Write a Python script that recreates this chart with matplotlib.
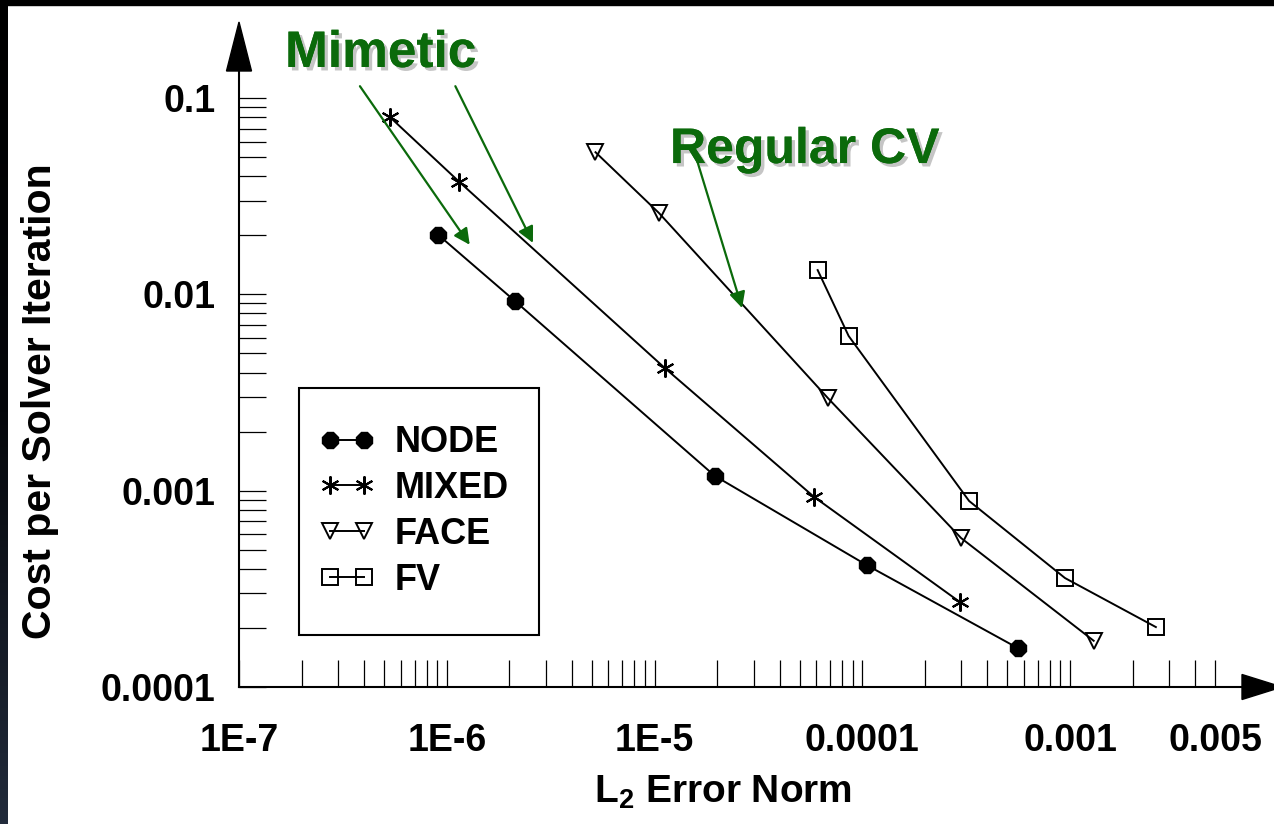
import matplotlib
matplotlib.use('Agg')
import matplotlib.pyplot as plt
import matplotlib.patheffects as pe
import numpy as np
from matplotlib.patches import Polygon, Rectangle
from matplotlib.colors import LinearSegmentedColormap
from matplotlib.ticker import FixedLocator, FixedFormatter, NullFormatter

plt.rcParams['font.family'] = ['Liberation Sans', 'DejaVu Sans']
plt.rcParams['font.weight'] = 'bold'
plt.rcParams['mathtext.fontset'] = 'custom'
plt.rcParams['mathtext.rm'] = 'Liberation Sans:bold'
plt.rcParams['mathtext.bf'] = 'Liberation Sans:bold'
plt.rcParams['mathtext.it'] = 'Liberation Sans:bold:italic'

# valores (error L2, costo por iteracion)
error_node = [9.1e-7, 2.13e-6, 1.95e-5, 1.05e-4, 5.6e-4]
cost_node = [0.0201, 0.00925, 0.00119, 4.18e-4, 1.58e-4]

error_mixed = [5.33e-7, 1.15e-6, 1.12e-5, 5.86e-5, 2.95e-4]
cost_mixed = [0.080, 0.0374, 0.00422, 9.3e-4, 2.71e-4]

error_face = [5.2e-6, 1.05e-5, 6.84e-5, 2.99e-4, 1.3e-3]
cost_face = [0.053, 0.026, 0.00296, 5.74e-4, 1.72e-4]

error_fv = [6.1e-5, 8.6e-5, 3.27e-4, 9.46e-4, 2.59e-3]
cost_fv = [0.0133, 0.00614, 8.86e-4, 3.59e-4, 2.02e-4]

x_ticks = [1e-7, 1e-6, 1e-5, 1e-4, 1e-3, 5e-3]
x_tick_labels = ['1E-7', '1E-6', '1E-5', '0.0001', '0.001', '0.005']
y_ticks = [1e-4, 1e-3, 1e-2, 1e-1]
y_tick_labels = ['0.0001', '0.001', '0.01', '0.1']

# flechas verdes: (cola, punta) en coordenadas de datos
mimetic_arrows = [((3.82e-7, 0.115), (1.29e-6, 0.0179)),
                  ((1.10e-6, 0.115), (2.60e-6, 0.0183))]
regular_arrows = [((1.60e-5, 0.0484), (2.64e-5, 0.00852))]

W, H = 1274, 824


def fig_xy(x, y):
    """pixel -> fraccion de figura"""
    return x / W, 1 - y / H


fig = plt.figure(figsize=(W / 100, H / 100), dpi=100)
fig.patch.set_facecolor('white')

# marco oscuro del slide
fig.add_artist(Rectangle((0, 1 - 5 / H), 1, 5 / H, transform=fig.transFigure,
                         color='black', zorder=0))
ax_bg = fig.add_axes([0, 0, 7 / W, 1])
grad = np.linspace(0, 1, 256).reshape(-1, 1)
cmap_bg = LinearSegmentedColormap.from_list('bg', ['#000000', '#05070b', '#222b3b'])
ax_bg.imshow(grad, aspect='auto', cmap=cmap_bg)
ax_bg.axis('off')

ax = fig.add_axes([239 / W, 1 - 687 / H, 1003 / W, 616 / H])
ax.set_xscale('log')
ax.set_yscale('log')
ax.set_xlim(1e-7, 10 ** (-7 + 1003 / 207.75))
ax.set_ylim(1e-4, 10 ** (-4 + 616 / 196.3))

lw = 1.4
ax.plot(error_node, cost_node, color='black', lw=lw, marker='8', ms=13,
        mfc='black', mec='black', label='NODE')
ax.plot(error_mixed, cost_mixed, color='black', lw=lw, marker=(6, 2, 0), ms=13,
        mec='black', mew=1.5, label='MIXED')
ax.plot(error_face, cost_face, color='black', lw=lw, marker='v', ms=12,
        mfc='none', mec='black', mew=1.4, label='FACE')
ax.plot(error_fv, cost_fv, color='black', lw=lw, marker='s', ms=11,
        mfc='none', mec='black', mew=1.4, label='FV')

for side in ['top', 'right']:
    ax.spines[side].set_visible(False)
for side in ['left', 'bottom']:
    ax.spines[side].set_linewidth(1.5)

x_minor = [m * 10.0 ** e for e in range(-7, -3) for m in range(2, 10)] + [2e-3, 3e-3, 4e-3]
y_minor = [m * 10.0 ** e for e in range(-4, -1) for m in range(2, 10)]
ax.xaxis.set_major_locator(FixedLocator(x_ticks))
ax.xaxis.set_major_formatter(FixedFormatter(x_tick_labels))
ax.xaxis.set_minor_locator(FixedLocator(x_minor))
ax.xaxis.set_minor_formatter(NullFormatter())
ax.yaxis.set_major_locator(FixedLocator(y_ticks))
ax.yaxis.set_major_formatter(FixedFormatter(y_tick_labels))
ax.yaxis.set_minor_locator(FixedLocator(y_minor))
ax.yaxis.set_minor_formatter(NullFormatter())

ax.tick_params(which='both', direction='in', length=19.5, width=0.9, color='black')
ax.tick_params(axis='x', which='major', pad=26, labelsize=27)
ax.tick_params(axis='y', which='major', pad=17, labelsize=27)

ax.set_xlabel(r'$\mathbf{L_2}$ Error Norm', fontsize=28, fontweight='bold')
ax.xaxis.label.set_va('baseline')
ax.xaxis.set_label_coords((723 - 239) / 1003, (687 - 803) / 616)
ax.set_ylabel('Cost per Solver Iteration', fontsize=29.5, fontweight='bold')
ax.yaxis.label.set_va('center')
ax.yaxis.set_label_coords((40 - 239) / 1003, (687 - 401) / 616)

# flechas de los ejes
fig.add_artist(Polygon([fig_xy(226.5, 71), fig_xy(251.5, 71), fig_xy(239, 22)],
                       closed=True, transform=fig.transFigure, color='black'))
fig.add_artist(Polygon([fig_xy(1242, 674.5), fig_xy(1242, 699.5), fig_xy(1282, 687)],
                       closed=True, transform=fig.transFigure, color='black'))

# leyenda sin marco + caja aparte
leg = ax.legend(loc='center', bbox_to_anchor=(0.1745, 0.2849), frameon=False,
                borderpad=0, numpoints=2, handlelength=1.53, handletextpad=0.55,
                labelspacing=0.3, prop=dict(size=26, weight='bold'))
ax.add_patch(Rectangle((0.0598, 0.0844), 0.2393, 0.401, transform=ax.transAxes,
                       fill=False, ec='black', lw=1.5, clip_on=False))

# anotaciones verdes
green = '#0b6a0b'
shadow = [pe.withSimplePatchShadow(offset=(2.5, -2.5), shadow_rgbFace='#7f7f7f', alpha=0.45),
          pe.Normal()]
ax.text(0.0459, 1.0065, 'Mimetic', transform=ax.transAxes, ha='left', va='baseline',
        fontsize=37, fontweight='bold', color=green, path_effects=shadow, clip_on=False)
ax.text(0.4297, 0.8506, 'Regular CV', transform=ax.transAxes, ha='left', va='baseline',
        fontsize=36, fontweight='bold', color=green, path_effects=shadow, clip_on=False)

for tail, tip in mimetic_arrows + regular_arrows:
    ax.annotate('', xy=tip, xytext=tail,
                arrowprops=dict(arrowstyle='-|>', color=green, lw=1.6, mutation_scale=24,
                                shrinkA=0, shrinkB=0),
                annotation_clip=False)

fig.savefig('out.png', dpi=100, facecolor='white')
